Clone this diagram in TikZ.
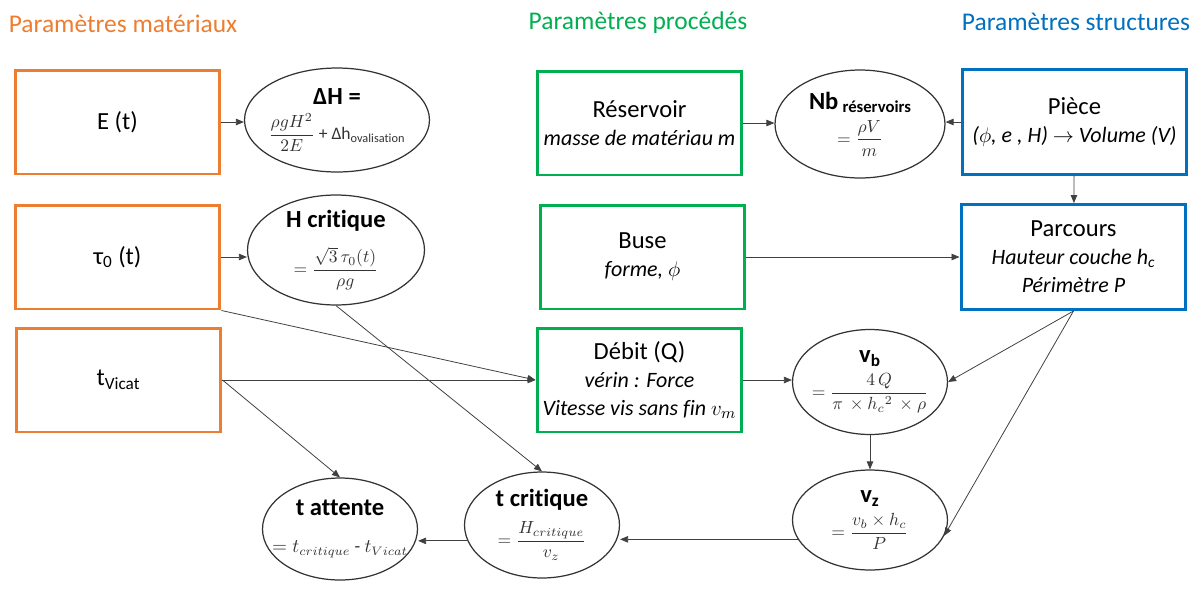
\documentclass[tikz,border=0pt]{standalone}
\usepackage{fontspec}
\setmainfont{Carlito}[Ligatures=NoCommon]
\usepackage{xcolor}
\usepackage{tikz}
\usetikzlibrary{shapes.geometric, arrows.meta}
\definecolor{matcol}{RGB}{237,125,49}
\definecolor{proccol}{RGB}{0,176,80}
\definecolor{structcol}{RGB}{0,112,192}
\newcommand{\detail}[1]{{\fontsize{12.5}{15}\selectfont\itshape #1}}
\newcommand{\formule}[1]{{\fontsize{10}{12}\selectfont\mdseries\color{black!80}#1}}
\tikzset{
  matbox/.style={rectangle, draw=matcol, line width=1.7pt, minimum width=4.1cm, minimum height=2.08cm, align=center, inner sep=2pt, font=\fontsize{14}{16}\selectfont},
  procbox/.style={matbox, draw=proccol},
  structbox/.style={matbox, draw=structcol, minimum width=4.5cm, minimum height=2.1cm},
  ovale/.style={ellipse, draw=black!80, line width=0.7pt, minimum width=3.1cm, minimum height=2.1cm, inner sep=-3pt, align=center, font=\fontsize{14}{16}\selectfont\bfseries},
  header/.style={font=\fontsize{14.5}{16}\selectfont},
  arrow/.style={-{Triangle[length=1.6mm, width=1.3mm]}, draw=black!75, line width=0.45pt},
}

\begin{document}
\begin{tikzpicture}[x=0.02cm, y=-0.02cm]
\useasboundingbox (0,0) rectangle (1201,593);
% column headers
\node[header, text=matcol] (hmat) at (123,24) {Paramètres matériaux};
\node[header, text=proccol] (hproc) at (638,23) {Paramètres procédés};
\node[header, text=structcol] (hstruct) at (1076,22) {Paramètres structures};
% material parameters
\node[matbox] (E) at (117.5,122) {E (t)};
\node[matbox] (tau) at (117.5,257) {τ\textsubscript{0} (t)};
\node[matbox] (tvicat) at (118.5,380) {t\textsubscript{Vicat}};
% process parameters
\node[procbox] (reserv) at (639.5,123) {Réservoir\\\detail{masse de matériau m}};
\node[procbox] (buse) at (642.5,257) {Buse\\\detail{forme, $\phi$}};
\node[procbox] (debit) at (639.5,380) {Débit (Q)\\\detail{vérin : Force}\\\detail{Vitesse vis sans fin $v_m$}};
% structure parameters
\node[structbox] (piece) at (1074.5,122) {Pièce\\\detail{($\phi$, e , H) $\rightarrow$ Volume (V)}};
\node[structbox] (parc) at (1073.5,257) {Parcours\\\detail{Hauteur couche h\textsubscript{c}}\\\detail{Périmètre P}};
% computed quantities
\node[ovale, minimum width=3.7cm, minimum height=2.08cm] (dH) at (337,120) {ΔH =\\[4pt]\formule{$\displaystyle\frac{\rho g H^2}{2E}$ + Δh\textsubscript{ovalisation}}};
\node[ovale, minimum width=3.54cm, minimum height=2.2cm] (hcrit) at (336,250) {H critique\\[8pt]\formule{$\displaystyle=\frac{\sqrt{3}\,\tau_0(t)}{\rho g}$}};
\node[ovale, minimum width=3.4cm, minimum height=2.16cm] (nb) at (860,124) {Nb\,\raisebox{-2pt}{\fontsize{9.5}{11}\selectfont réservoirs}\\[4pt]\formule{$\displaystyle=\frac{\rho V}{m}$}};
\node[ovale] (vb) at (870,382) {v\textsubscript{b}\\[4pt]\formule{$\displaystyle=\frac{4\,Q}{\pi\,\times h_c{}^2\,\times\rho}$}};
\node[ovale, minimum height=2cm] (vz) at (870,520) {v\textsubscript{z}\\[4pt]\formule{$\displaystyle=\frac{v_b\times h_c}{P}$}};
\node[ovale, minimum height=2.12cm] (tcrit) at (542,525) {t critique\\[6pt]\formule{$\displaystyle=\frac{H_{critique}}{v_z}$}};
\node[ovale, minimum height=2.04cm] (tatt) at (340,529) {t attente\\[5pt]\makebox[1.9cm]{\fontsize{10.5}{13}\selectfont\mdseries\color{black!80}$=t_{critique}$ - $t_{Vicat}$}};
% connectors
\draw[arrow](E.east)--(E.east-|dH.west);
\draw[arrow](tau.east)--(tau.east-|hcrit.west);
\draw[arrow](tau.south east)--(debit.west);
\draw[arrow](tvicat)--(debit);
\draw[arrow](tvicat.east)--(tatt.north);
\draw[arrow](hcrit.south)--(tcrit.north);
\draw[arrow](reserv.east)--(reserv.east-|nb.west);
\draw[arrow](piece.west)--(piece.west-|nb.east);
\draw[arrow](piece)--(parc);
\draw[arrow](buse)--(parc);
\draw[arrow](debit.east)--(debit.east-|vb.west);
\draw[arrow](parc.south)--(vb.east);
\draw[arrow](parc.south)--(vz.-12);
\draw[arrow](vb)--(vz);
\draw[arrow](vz.195)--(vz.195-|tcrit.east);
\draw[arrow](tcrit.192)--(tcrit.192-|tatt.east);
\end{tikzpicture}
\end{document}
